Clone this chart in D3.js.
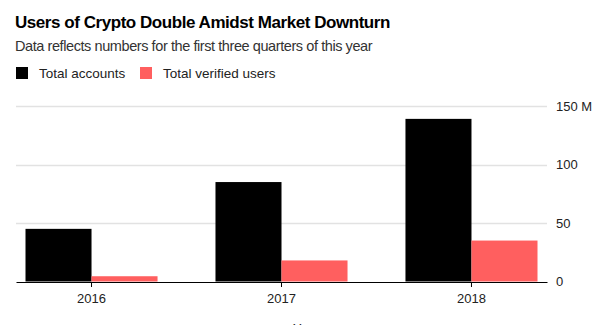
<!DOCTYPE html>
<html>
<head>
<meta charset="utf-8">
<script src="https://cdn.jsdelivr.net/npm/d3@7"></script>
<style>
  html, body { margin: 0; padding: 0; background: #fff; }
  svg { display: block; font-family: "Liberation Sans", Arial, sans-serif; }
</style>
</head>
<body>
<svg id="chart" width="610" height="325"></svg>
<script>
const years = ["2016", "2017", "2018"];
const totalAccounts = [45, 85, 139];
const verifiedUsers = [4.5, 18, 35];
const seriesNames = ["Total accounts", "Total verified users"];
const seriesColors = ["#000000", "#ff5f5f"];
const yTicks = [0, 50, 100, 150];
const yTickLabels = ["0", "50", "100", "150 M"];

(function () {
const svg = d3.select("#chart");
const plotLeft = 16, plotRight = 547, plotTop = 106, plotBottom = 281.5;

svg.append("text").attr("x", 15).attr("y", 28)
  .attr("font-size", 17).attr("font-weight", "bold").attr("fill", "#000")
  .attr("letter-spacing", -0.45)
  .text("Users of Crypto Double Amidst Market Downturn");
svg.append("text").attr("x", 15).attr("y", 51)
  .attr("font-size", 14.5).attr("fill", "#333").attr("letter-spacing", -0.42)
  .text("Data reflects numbers for the first three quarters of this year");

// legend
const lg = svg.append("g");
const legendX = [16, 140];
seriesNames.forEach((n, i) => {
  lg.append("rect").attr("x", legendX[i]).attr("y", 67).attr("width", 12).attr("height", 12)
    .attr("fill", seriesColors[i]);
  lg.append("text").attr("x", legendX[i] + 23).attr("y", 78)
    .attr("font-size", 13.5).attr("fill", "#222").text(n);
});

const x = d3.scaleBand().domain(years).range([plotLeft, plotRight])
  .paddingInner(0.305).paddingOuter(0.05);
const x1 = d3.scaleBand().domain([0, 1]).range([0, x.bandwidth()]);
const y = d3.scaleLinear().domain([0, 150]).range([plotBottom, plotTop]);

// gridlines
svg.append("g").selectAll("line").data(yTicks.filter(d => d > 0)).join("line")
  .attr("x1", plotLeft).attr("x2", plotRight)
  .attr("y1", d => Math.round(y(d)) + 0.5).attr("y2", d => Math.round(y(d)) + 0.5)
  .attr("stroke", "#e2e2e2").attr("stroke-width", 1.5);

// y labels
svg.append("g").selectAll("text").data(yTicks).join("text")
  .attr("x", 556).attr("y", d => y(d)).attr("dy", "0.35em")
  .attr("font-size", 13).attr("fill", "#222")
  .text((d, i) => yTickLabels[i]);

// bars
const data = years.map((yr, i) => ({ yr, vals: [totalAccounts[i], verifiedUsers[i]] }));
const groups = svg.append("g").selectAll("g").data(data).join("g")
  .attr("transform", d => `translate(${x(d.yr)},0)`);
groups.selectAll("rect").data(d => d.vals.map((v, k) => ({ v, k }))).join("rect")
  .attr("x", d => x1(d.k)).attr("width", x1.bandwidth())
  .attr("y", d => y(d.v)).attr("height", d => y(0) - y(d.v))
  .attr("fill", d => seriesColors[d.k]);

// x axis
const xAxis = d3.axisBottom(x).tickSize(5).tickSizeOuter(0);
const ax = svg.append("g").attr("transform", `translate(0,${Math.round(plotBottom)})`).call(xAxis);
ax.select(".domain").attr("stroke", "#000");
ax.selectAll(".tick line").attr("stroke", "#000");
ax.selectAll(".tick text").attr("font-size", 13).attr("fill", "#222")
  .attr("font-family", "'Liberation Sans', Arial, sans-serif").attr("dy", "1.0em");

svg.append("text").attr("x", 293).attr("y", 333)
  .attr("font-size", 13).attr("fill", "#222").text("Year");
})();
</script>
</body>
</html>
